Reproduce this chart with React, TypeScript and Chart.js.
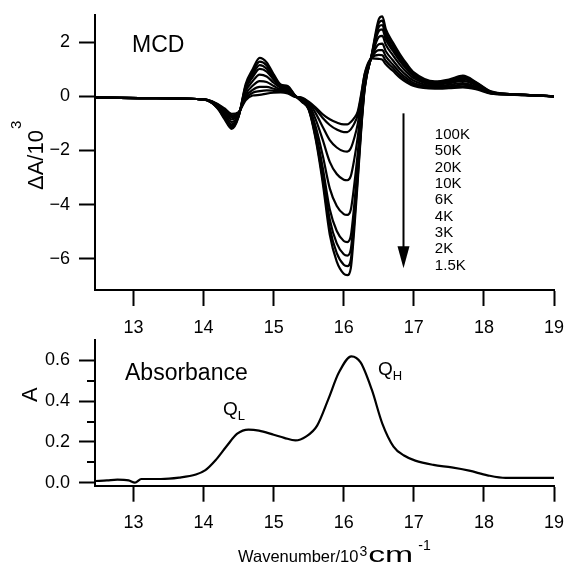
import React, { useEffect, useRef } from 'react';
import { Chart, registerables } from 'chart.js';

Chart.register(...registerables);

const FONT = '"Liberation Sans", Arial, Helvetica, sans-serif';

// ---- MCD (top panel) ----
const wavenumbers = [12.45, 12.8, 13.2, 13.6, 13.9, 14.05, 14.2, 14.3, 14.4, 14.5, 14.6, 14.7, 14.8, 14.9, 15.0, 15.1, 15.2, 15.3, 15.4, 15.5, 15.6, 15.7, 15.8, 15.9, 16.0, 16.05, 16.1, 16.15, 16.2, 16.25, 16.3, 16.4, 16.5, 16.55, 16.6, 16.7, 16.8, 16.9, 17.0, 17.3, 17.5, 17.7, 17.9, 18.1, 18.4, 18.7, 19.0];

const mcd100K = [-0.05, -0.06, -0.07, -0.08, -0.10, -0.13, -0.28, -0.45, -0.65, -0.58, -0.15, 0.03, 0.05, 0.10, 0.13, 0.14, 0.10, -0.02, -0.05, -0.20, -0.42, -0.67, -0.85, -0.97, -1.04, -1.04, -0.95, -0.80, -0.55, 0.10, 0.85, 1.40, 1.38, 1.35, 1.18, 0.94, 0.69, 0.51, 0.38, 0.28, 0.30, 0.33, 0.25, 0.10, 0.06, 0.03, 0.00];
const mcd50K = [-0.05, -0.06, -0.07, -0.08, -0.10, -0.13, -0.30, -0.49, -0.71, -0.60, -0.09, 0.13, 0.19, 0.22, 0.20, 0.17, 0.13, -0.01, -0.06, -0.22, -0.48, -0.80, -1.06, -1.23, -1.32, -1.32, -1.22, -1.01, -0.68, 0.04, 0.82, 1.42, 1.53, 1.51, 1.31, 1.05, 0.78, 0.58, 0.43, 0.31, 0.33, 0.37, 0.28, 0.11, 0.06, 0.03, 0.00];
const mcd20K = [-0.05, -0.06, -0.07, -0.08, -0.10, -0.13, -0.32, -0.54, -0.77, -0.62, -0.02, 0.24, 0.35, 0.35, 0.28, 0.21, 0.16, 0.00, -0.08, -0.25, -0.63, -1.13, -1.62, -1.89, -2.03, -2.04, -1.92, -1.54, -1.01, -0.13, 0.75, 1.43, 1.70, 1.70, 1.47, 1.17, 0.88, 0.66, 0.49, 0.34, 0.37, 0.43, 0.31, 0.12, 0.06, 0.03, 0.00];
const mcd10K = [-0.05, -0.06, -0.07, -0.08, -0.10, -0.14, -0.34, -0.60, -0.85, -0.64, 0.07, 0.39, 0.56, 0.53, 0.38, 0.25, 0.20, 0.01, -0.11, -0.31, -0.86, -1.61, -2.42, -2.87, -3.08, -3.10, -2.95, -2.32, -1.49, -0.38, 0.65, 1.46, 1.92, 1.94, 1.66, 1.33, 1.01, 0.76, 0.57, 0.38, 0.42, 0.49, 0.34, 0.13, 0.07, 0.03, 0.00];
const mcd6K = [-0.05, -0.06, -0.07, -0.08, -0.10, -0.14, -0.37, -0.67, -0.95, -0.67, 0.18, 0.56, 0.80, 0.73, 0.50, 0.31, 0.25, 0.02, -0.14, -0.38, -1.13, -2.19, -3.40, -4.05, -4.35, -4.38, -4.19, -3.26, -2.08, -0.68, 0.52, 1.48, 2.19, 2.23, 1.90, 1.52, 1.17, 0.88, 0.66, 0.43, 0.48, 0.57, 0.39, 0.14, 0.07, 0.04, 0.00];
const mcd4K = [-0.05, -0.06, -0.07, -0.08, -0.10, -0.14, -0.40, -0.73, -1.04, -0.70, 0.27, 0.71, 1.01, 0.91, 0.61, 0.35, 0.30, 0.03, -0.17, -0.43, -1.34, -2.64, -4.17, -4.97, -5.34, -5.38, -5.16, -4.00, -2.54, -0.91, 0.42, 1.51, 2.41, 2.47, 2.09, 1.68, 1.30, 0.99, 0.73, 0.47, 0.52, 0.63, 0.43, 0.16, 0.07, 0.04, 0.00];
const mcd3K = [-0.05, -0.06, -0.07, -0.08, -0.10, -0.15, -0.42, -0.77, -1.09, -0.72, 0.33, 0.81, 1.15, 1.02, 0.67, 0.38, 0.32, 0.04, -0.18, -0.46, -1.45, -2.87, -4.55, -5.43, -5.83, -5.88, -5.65, -4.37, -2.77, -1.03, 0.37, 1.52, 2.56, 2.63, 2.22, 1.78, 1.39, 1.05, 0.78, 0.50, 0.56, 0.67, 0.45, 0.16, 0.08, 0.04, 0.00];
const mcd2K = [-0.05, -0.06, -0.07, -0.08, -0.10, -0.15, -0.43, -0.81, -1.15, -0.73, 0.39, 0.90, 1.28, 1.14, 0.74, 0.41, 0.35, 0.04, -0.19, -0.48, -1.53, -3.05, -4.85, -5.79, -6.22, -6.27, -6.03, -4.65, -2.95, -1.12, 0.33, 1.54, 2.70, 2.79, 2.35, 1.89, 1.47, 1.12, 0.83, 0.52, 0.59, 0.72, 0.48, 0.17, 0.08, 0.04, 0.00];
const mcd1p5K = [-0.05, -0.06, -0.07, -0.08, -0.10, -0.15, -0.45, -0.85, -1.20, -0.75, 0.45, 1.00, 1.42, 1.25, 0.81, 0.44, 0.38, 0.05, -0.20, -0.50, -1.60, -3.20, -5.10, -6.10, -6.55, -6.60, -6.35, -4.90, -3.10, -1.20, 0.30, 1.55, 2.85, 2.95, 2.48, 1.99, 1.56, 1.19, 0.88, 0.55, 0.62, 0.76, 0.50, 0.18, 0.08, 0.04, 0.00];

const mcdSeries = [mcd100K, mcd50K, mcd20K, mcd10K, mcd6K, mcd4K, mcd3K, mcd2K, mcd1p5K];
const temperatureLabels = ['100K', '50K', '20K', '10K', '6K', '4K', '3K', '2K', '1.5K'];

// ---- Absorbance (bottom panel) ----
const absWavenumbers = [12.46, 12.62, 12.77, 12.93, 13.02, 13.11, 13.39, 13.65, 13.89, 14.02, 14.17, 14.33, 14.48, 14.64, 14.79, 15.0, 15.15, 15.31, 15.46, 15.62, 15.78, 15.93, 16.11, 16.24, 16.40, 16.55, 16.71, 16.86, 17.02, 17.28, 17.54, 17.79, 18.05, 18.31, 19.0];
const absorbance = [0.008, 0.011, 0.015, 0.011, 0.0, 0.018, 0.018, 0.025, 0.04, 0.06, 0.11, 0.18, 0.24, 0.26, 0.255, 0.235, 0.22, 0.207, 0.226, 0.28, 0.41, 0.54, 0.62, 0.59, 0.456, 0.29, 0.177, 0.133, 0.108, 0.087, 0.075, 0.059, 0.036, 0.023, 0.023];

// ---- Axes ----
const xTicks = [13, 14, 15, 16, 17, 18, 19];
const mcdTicks = [2, 0, -2, -4, -6];
const absTicks = [0, 0.2, 0.4, 0.6];
const absMinorTicks = [0.1, 0.3, 0.5];

// annotation anchors (data units)
const arrowWavenumber = 16.85;
const arrowTop = -0.63;
const arrowTip = -6.35;
const labelWavenumber = 17.3;
const labelFirstY = -1.43;
const labelStep = 0.602;

const X_MIN = 12.45;
const X_MAX = 19.0;

function zeroPad(s: any) {
  s.paddingTop = 0;
  s.paddingBottom = 0;
  s.paddingLeft = 0;
  s.paddingRight = 0;
}

function xAxis(height: number) {
  return {
    type: 'linear',
    min: X_MIN,
    max: X_MAX,
    afterBuildTicks: (s: any) => {
      s.ticks = xTicks.map((v) => ({ value: v }));
    },
    afterFit: (s: any) => {
      s.height = height;
      zeroPad(s);
    },
    grid: { display: true, drawOnChartArea: false, drawTicks: true, tickLength: 16, tickWidth: 2, tickColor: '#000' },
    border: { display: true, color: '#000', width: 2 },
    ticks: { color: '#000', font: { size: 18, family: FONT }, padding: 11, maxRotation: 0, autoSkip: false, callback: (v: any) => String(v) },
  };
}

const topPlugin = {
  id: 'topAnnotations',
  afterDraw(chart: any) {
    const ctx = chart.ctx;
    const xs = chart.scales.x;
    const ys = chart.scales.y;
    ctx.save();
    ctx.fillStyle = '#000';
    ctx.strokeStyle = '#000';
    ctx.textAlign = 'left';
    ctx.textBaseline = 'alphabetic';
    ctx.font = `23px ${FONT}`;
    ctx.fillText('MCD', 132, 52);

    // y title rotated
    ctx.save();
    ctx.translate(43, 190);
    ctx.rotate(-Math.PI / 2);
    ctx.font = `22px ${FONT}`;
    ctx.fillText('ΔA/10', 0, 0);
    const w1 = ctx.measureText('ΔA/10').width;
    ctx.font = `15px ${FONT}`;
    ctx.fillText('3', w1 + 1, -22);
    ctx.restore();

    // arrow
    const ax = Math.round(xs.getPixelForValue(arrowWavenumber)) + 0.5;
    const aTop = ys.getPixelForValue(arrowTop);
    const aTip = ys.getPixelForValue(arrowTip);
    ctx.lineWidth = 2;
    ctx.beginPath();
    ctx.moveTo(ax, aTop);
    ctx.lineTo(ax, aTip - 20);
    ctx.stroke();
    ctx.beginPath();
    ctx.moveTo(ax - 6, aTip - 22);
    ctx.lineTo(ax + 6, aTip - 22);
    ctx.lineTo(ax, aTip);
    ctx.closePath();
    ctx.fill();

    // temperature labels
    ctx.font = `15px ${FONT}`;
    ctx.textBaseline = 'middle';
    const lx = xs.getPixelForValue(labelWavenumber);
    temperatureLabels.forEach((t, i) => {
      ctx.fillText(t, lx, ys.getPixelForValue(labelFirstY - i * labelStep));
    });
    ctx.restore();
  },
};

function drawSubscripted(ctx: any, main: string, sub: string, x: number, y: number) {
  ctx.font = `19px ${FONT}`;
  ctx.fillText(main, x, y);
  const w = ctx.measureText(main).width;
  ctx.font = `13px ${FONT}`;
  ctx.fillText(sub, x + w, y + 5);
}

const bottomPlugin = {
  id: 'bottomAnnotations',
  afterDraw(chart: any) {
    const ctx = chart.ctx;
    const ys = chart.scales.y;
    const left = chart.chartArea.left;
    ctx.save();
    ctx.fillStyle = '#000';
    ctx.strokeStyle = '#000';
    // minor ticks
    ctx.lineWidth = 2;
    absMinorTicks.forEach((v) => {
      const py = Math.round(ys.getPixelForValue(v));
      ctx.beginPath();
      ctx.moveTo(left - 8, py);
      ctx.lineTo(left, py);
      ctx.stroke();
    });
    ctx.textAlign = 'left';
    ctx.textBaseline = 'alphabetic';
    ctx.font = `23px ${FONT}`;
    ctx.fillText('Absorbance', 125, 45);

    drawSubscripted(ctx, 'Q', 'L', 223, 80);
    drawSubscripted(ctx, 'Q', 'H', 378, 40);

    // y title
    ctx.save();
    ctx.translate(37, 67);
    ctx.rotate(-Math.PI / 2);
    ctx.font = `22px ${FONT}`;
    ctx.fillText('A', 0, 0);
    ctx.restore();

    // x title
    const base = 227;
    let x = 238;
    ctx.font = `16.5px ${FONT}`;
    ctx.fillText('Wavenumber/10', x, base);
    x += ctx.measureText('Wavenumber/10').width + 1;
    ctx.font = `14px ${FONT}`;
    ctx.fillText('3', x, base - 6);
    x += ctx.measureText('3').width + 1;
    ctx.save();
    ctx.font = `22px ${FONT}`;
    const cw = ctx.measureText('cm').width;
    ctx.translate(x, base);
    ctx.scale(45 / cw, 1);
    ctx.fillText('cm', 0, 0);
    ctx.restore();
    x += 50;
    ctx.font = `14px ${FONT}`;
    ctx.fillText('-1', x, base - 12);
    ctx.restore();
  },
};

export default function App() {
  const topRef = useRef<HTMLCanvasElement | null>(null);
  const bottomRef = useRef<HTMLCanvasElement | null>(null);

  useEffect(() => {
    if (!topRef.current || !bottomRef.current) return;
    Chart.defaults.font.family = FONT;
    Chart.defaults.color = '#000';

    const topChart = new Chart(topRef.current, {
      type: 'line',
      data: {
        datasets: mcdSeries.map((series, si) => ({
          label: temperatureLabels[si],
          data: wavenumbers.map((x, i) => ({ x, y: series[i] })),
          borderColor: '#000',
          borderWidth: 2.2,
          pointRadius: 0,
          fill: false,
          cubicInterpolationMode: 'monotone',
        })),
      },
      options: {
        responsive: false,
        animation: false,
        layout: { padding: { left: 0, right: 12, top: 15, bottom: 0 } },
        plugins: { legend: { display: false }, tooltip: { enabled: false } },
        scales: {
          x: xAxis(55),
          y: {
            type: 'linear',
            min: -7.15,
            max: 3.0,
            afterBuildTicks: (s: any) => {
              s.ticks = mcdTicks.map((v) => ({ value: v }));
            },
            afterFit: (s: any) => {
              s.width = 95;
              zeroPad(s);
            },
            grid: { display: true, drawOnChartArea: false, drawTicks: true, tickLength: 16, tickWidth: 2, tickColor: '#000' },
            border: { display: true, color: '#000', width: 2 },
            ticks: {
              color: '#000',
              font: { size: 18, family: FONT },
              padding: 9,
              autoSkip: false,
              callback: (v: any) => (v < 0 ? '\u2212' + Math.abs(v) : String(v)),
            },
          },
        },
      } as any,
      plugins: [topPlugin],
    });

    const bottomChart = new Chart(bottomRef.current, {
      type: 'line',
      data: {
        datasets: [
          {
            label: 'Absorbance',
            data: absWavenumbers.map((x, i) => ({ x, y: absorbance[i] })),
            borderColor: '#000',
            borderWidth: 2.2,
            pointRadius: 0,
            fill: false,
            cubicInterpolationMode: 'monotone',
          },
        ],
      },
      options: {
        responsive: false,
        animation: false,
        layout: { padding: { left: 0, right: 12, top: 5, bottom: 0 } },
        plugins: { legend: { display: false }, tooltip: { enabled: false } },
        scales: {
          x: xAxis(79.3),
          y: {
            type: 'linear',
            min: -0.015,
            max: 0.7,
            afterBuildTicks: (s: any) => {
              s.ticks = absTicks.map((v) => ({ value: v }));
            },
            afterFit: (s: any) => {
              s.width = 95;
              zeroPad(s);
            },
            grid: { display: true, drawOnChartArea: false, drawTicks: true, tickLength: 16, tickWidth: 2, tickColor: '#000' },
            border: { display: true, color: '#000', width: 2 },
            ticks: {
              color: '#000',
              font: { size: 18, family: FONT },
              padding: 9,
              autoSkip: false,
              callback: (v: any) => Number(v).toFixed(1),
            },
          },
        },
      } as any,
      plugins: [bottomPlugin],
    });

    return () => {
      topChart.destroy();
      bottomChart.destroy();
    };
  }, []);

  return (
    <div style={{ position: 'absolute', left: 0, top: 0, width: 566, height: 565, background: '#fff' }}>
      <canvas ref={topRef} width={566} height={345} style={{ position: 'absolute', left: 0, top: 0, display: 'block' }} />
      <canvas ref={bottomRef} width={566} height={230} style={{ position: 'absolute', left: 0, top: 335, display: 'block' }} />
    </div>
  );
}
